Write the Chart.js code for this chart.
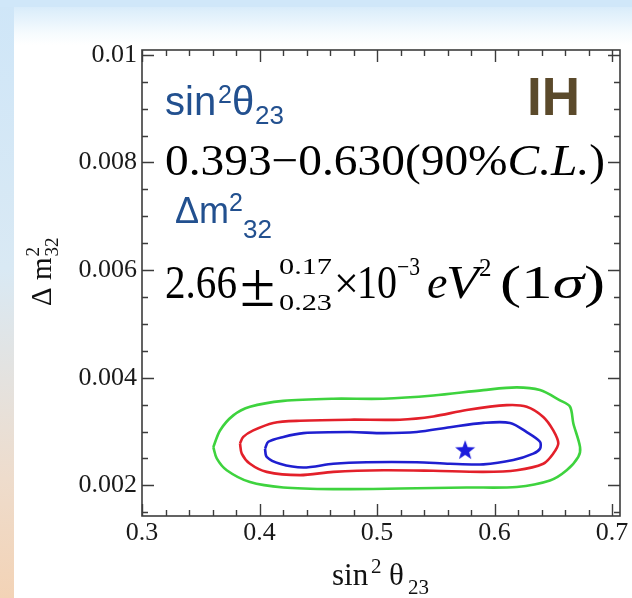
<!DOCTYPE html>
<html>
<head>
<meta charset="utf-8">
<script src="https://cdn.jsdelivr.net/npm/chart.js@4/dist/chart.umd.min.js"></script>
<style>
html,body{margin:0;padding:0;width:632px;height:598px;overflow:hidden;}
body{position:relative;background:linear-gradient(to bottom,#cfe6f8 0%,#d9e9f4 45%,#eedccc 80%,#f3d3b6 100%);}
#panel{position:absolute;left:14px;top:7px;right:0;bottom:0;background:linear-gradient(to bottom,#d9ecfa 0px,#e6f3fc 12px,#f6fbfe 26px,#ffffff 38px);}
#top{position:absolute;left:0;top:0;right:0;height:7px;background:#d0e7f9;}
canvas{position:absolute;left:0;top:0;}
</style>
</head>
<body>
<div id="top"></div>
<div id="panel"></div>
<canvas id="c" width="632" height="598"></canvas>
<script>
// ---- data ----
const xTickValues = [0.3, 0.4, 0.5, 0.6, 0.7];
const xTickLabels = ['0.3', '0.4', '0.5', '0.6', '0.7'];
const yTickValues = [0.002, 0.004, 0.006, 0.008, 0.01];
const yTickLabels = ['0.002', '0.004', '0.006', '0.008', '0.01'];

// outer contour (green)
const greenX = [0.3607,0.3664,0.3777,0.3919,0.4203,0.4628,0.5054,0.5479,0.5905,0.6189,0.6387,0.6557,0.6643,0.6671,0.6728,0.6713,0.6614,0.6472,0.6189,0.5763,0.5196,0.4628,0.4203,0.3919,0.3721,0.3636];
const greenY = [0.00271,0.00302,0.00330,0.00346,0.00357,0.00361,0.00361,0.00367,0.00377,0.00382,0.00377,0.00358,0.00346,0.00315,0.00271,0.00253,0.00228,0.00209,0.00197,0.00196,0.00194,0.00193,0.00196,0.00206,0.00228,0.00250];
// middle contour (red)
const redX = [0.3834,0.3862,0.3947,0.4117,0.4345,0.4770,0.5196,0.5479,0.5763,0.6104,0.6274,0.6415,0.6500,0.6543,0.6500,0.6415,0.6189,0.5905,0.5479,0.5054,0.4628,0.4345,0.4061,0.3919,0.3849];
const redY = [0.00278,0.00290,0.00302,0.00316,0.00320,0.00322,0.00322,0.00328,0.00340,0.00349,0.00346,0.00327,0.00302,0.00278,0.00259,0.00240,0.00228,0.00225,0.00227,0.00228,0.00225,0.00219,0.00225,0.00240,0.00259];
// inner contour (blue)
const blueX = [0.4047,0.4075,0.4203,0.4373,0.4770,0.5054,0.5338,0.5621,0.5905,0.6132,0.6274,0.6387,0.6387,0.6330,0.6160,0.5905,0.5621,0.5338,0.4912,0.4628,0.4373,0.4174,0.4061];
const blueY = [0.00268,0.00281,0.00290,0.00297,0.00299,0.00297,0.00299,0.00308,0.00316,0.00316,0.00299,0.00281,0.00268,0.00259,0.00247,0.00239,0.00240,0.00243,0.00243,0.00240,0.00233,0.00240,0.00253];
// best fit point
const bestX = [0.575];
const bestY = [0.00266];

const X_MIN = 0.3, X_MAX = 0.7068, Y_MIN = 0.00143, Y_MAX = 0.01009;

function loop(xs, ys) {
  const pts = xs.map((x, i) => ({x: x, y: ys[i]}));
  pts.push({x: xs[0], y: ys[0]});
  return pts;
}

// filled star icon for the best-fit marker
function makeStar(color) {
  const c = document.createElement('canvas');
  c.width = 24; c.height = 24;
  const g = c.getContext('2d');
  g.fillStyle = color;
  g.beginPath();
  for (let i = 0; i < 10; i++) {
    const r = i % 2 === 0 ? 10.5 : 4.3;
    const a = -Math.PI / 2 + i * Math.PI / 5;
    const px = 12 + r * Math.cos(a), py = 12.8 + r * Math.sin(a);
    if (i === 0) g.moveTo(px, py); else g.lineTo(px, py);
  }
  g.closePath();
  g.fill();
  return c;
}

const SERIF = '"Liberation Serif","Times New Roman",Times,serif';
const SANS = '"Liberation Sans",Arial,Helvetica,sans-serif';

function run(ctx, txt, x, y, font, color, w) {
  ctx.save();
  ctx.font = font;
  ctx.fillStyle = color;
  ctx.textAlign = 'left';
  ctx.textBaseline = 'alphabetic';
  ctx.translate(x, y);
  if (w) {
    const m = ctx.measureText(txt).width;
    ctx.scale(w / m, 1);
  }
  ctx.fillText(txt, 0, 0);
  ctx.restore();
}

// several runs fitted to a total width
function runs(ctx, parts, x, y, color, totalW) {
  ctx.save();
  ctx.fillStyle = color;
  ctx.textBaseline = 'alphabetic';
  let tot = 0;
  parts.forEach(p => { ctx.font = p[1]; tot += ctx.measureText(p[0]).width; });
  ctx.translate(x, y);
  ctx.scale(totalW / tot, 1);
  let cx = 0;
  parts.forEach(p => { ctx.font = p[1]; ctx.fillText(p[0], cx, 0); cx += ctx.measureText(p[0]).width; });
  ctx.restore();
}

const framePlugin = {
  id: 'frame',
  beforeDatasetsDraw(chart) {
    const ctx = chart.ctx, a = chart.chartArea;
    const xs = chart.scales.x, ys = chart.scales.y;
    ctx.save();
    ctx.strokeStyle = '#3c3c3c';
    ctx.lineWidth = 1.4;
    ctx.beginPath();
    // x ticks (major + minor), bottom and top, pointing inward
    for (let k = 0; k <= 20; k++) {
      const v = 0.3 + k * 0.02;
      const major = k % 5 === 0;
      const len = major ? 12 : 6;
      const px = Math.round(xs.getPixelForValue(v)) + 0.5;
      ctx.moveTo(px, a.bottom); ctx.lineTo(px, a.bottom - len);
      ctx.moveTo(px, a.top); ctx.lineTo(px, a.top + len);
    }
    // y ticks (major + minor), left and right
    for (let k = 3; k <= 20; k++) {
      const v = k * 0.0005;
      const major = k % 4 === 0;
      const len = major ? 12 : 6;
      const py = Math.round(ys.getPixelForValue(v)) + 0.5;
      ctx.moveTo(a.left, py); ctx.lineTo(a.left + len, py);
      ctx.moveTo(a.right, py); ctx.lineTo(a.right - len, py);
    }
    ctx.stroke();
    ctx.lineWidth = 1.6;
    ctx.strokeRect(a.left, a.top, a.right - a.left, a.bottom - a.top);
    ctx.restore();
  },
  afterDraw(chart) {
    const ctx = chart.ctx;
    const blueTxt = '#22508f';
    // sin^2 theta_23 (blue)
    run(ctx, 'sin', 165, 115, '40px ' + SANS, blueTxt);
    run(ctx, '2', 218, 103, '25px ' + SANS, blueTxt);
    run(ctx, 'θ', 232, 115, '40px ' + SANS, blueTxt);
    run(ctx, '23', 255, 124, '26px ' + SANS, blueTxt);
    // IH
    run(ctx, 'IH', 527, 115, 'bold 53px ' + SANS, '#5b4a2b');
    // 0.393-0.630(90%C.L.)
    runs(ctx, [
      ['0.393−0.630(90%', '44px ' + SERIF],
      ['C.L.', 'italic 44px ' + SERIF],
      [')', '44px ' + SERIF]
    ], 165, 175, '#000', 440);
    // Delta m^2_32 (blue)
    run(ctx, 'Δm', 175, 223, '36px ' + SANS, blueTxt);
    run(ctx, '2', 229, 211, '25px ' + SANS, blueTxt);
    run(ctx, '32', 243, 238, '26px ' + SANS, blueTxt);
    // 2.66 +0.17 -0.23 x10^-3 eV^2 (1 sigma)
    run(ctx, '2.66', 165, 298, '46px ' + SERIF, '#000', 72);
    run(ctx, '±', 240, 306, '64px ' + SERIF, '#000');
    run(ctx, '0.17', 279, 274, '24px ' + SERIF, '#000', 53);
    run(ctx, '0.23', 279, 310, '24px ' + SERIF, '#000', 53);
    run(ctx, '×', 334, 298, '44px ' + SERIF, '#000');
    run(ctx, '10', 357, 298, '46px ' + SERIF, '#000', 40);
    run(ctx, '−3', 397, 275, '25px ' + SERIF, '#000', 23);
    run(ctx, 'e', 427, 298, 'italic 46px ' + SERIF, '#000');
    run(ctx, 'V', 446, 298, 'italic 46px ' + SERIF, '#000', 33);
    run(ctx, '2', 479, 276, '25px ' + SERIF, '#000');
    runs(ctx, [
      ['(1', '46px ' + SERIF],
      ['σ', 'italic 46px ' + SERIF],
      [')', '46px ' + SERIF]
    ], 500, 298, '#000', 105);
    // x axis title
    run(ctx, 'sin', 332, 585, '31px ' + SERIF, '#111');
    run(ctx, '2', 371, 573, '21px ' + SERIF, '#111');
    run(ctx, 'θ', 389, 585, '31px ' + SERIF, '#111');
    run(ctx, '23', 408, 594, '21px ' + SERIF, '#111');
    // y axis title (rotated)
    ctx.save();
    ctx.translate(51, 306);
    ctx.rotate(-Math.PI / 2);
    run(ctx, 'Δ m', 0, 0, '29px ' + SERIF, '#111');
    ctx.font = '29px ' + SERIF;
    const w = ctx.measureText('Δ m').width;
    run(ctx, '2', w + 1, -12, '19px ' + SERIF, '#111');
    run(ctx, '32', w + 1, 7, '19px ' + SERIF, '#111');
    ctx.restore();
  }
};

const tickFont = {family: SERIF, size: 26};

new Chart(document.getElementById('c'), {
  type: 'scatter',
  data: {
    datasets: [
      {label: 'outer', data: loop(greenX, greenY), showLine: true, borderColor: '#3ed33e', borderWidth: 2.6, pointRadius: 0, tension: 0.3, fill: false},
      {label: 'middle', data: loop(redX, redY), showLine: true, borderColor: '#e3202a', borderWidth: 2.6, pointRadius: 0, tension: 0.3, fill: false},
      {label: 'inner', data: loop(blueX, blueY), showLine: true, borderColor: '#1f1fd0', borderWidth: 2.6, pointRadius: 0, tension: 0.3, fill: false},
      {label: 'best fit', data: bestX.map((x, i) => ({x: x, y: bestY[i]})), showLine: false, pointStyle: makeStar('#1c1cdc'), pointRadius: 11}
    ]
  },
  options: {
    responsive: false,
    animation: false,
    events: [],
    layout: {padding: {left: 0, right: 12, top: 50, bottom: 0}, autoPadding: false},
    plugins: {legend: {display: false}, tooltip: {enabled: false}, title: {display: false}},
    scales: {
      x: {
        type: 'linear', min: X_MIN, max: X_MAX,
        afterBuildTicks: s => { s.ticks = xTickValues.map(v => ({value: v})); },
        afterFit: s => { s.height = 82; s.paddingLeft = 0; s.paddingRight = 0; s.paddingTop = 0; s.paddingBottom = 0; },
        ticks: {callback: (v, i) => xTickLabels[i], font: tickFont, color: '#1a1a1a', padding: 2, maxRotation: 0, autoSkip: false},
        grid: {display: false, drawTicks: false},
        border: {display: false}
      },
      y: {
        type: 'linear', min: Y_MIN, max: Y_MAX,
        afterBuildTicks: s => { s.ticks = yTickValues.map(v => ({value: v})); },
        afterFit: s => { s.width = 142; s.paddingLeft = 0; s.paddingRight = 0; s.paddingTop = 0; s.paddingBottom = 0; },
        ticks: {callback: (v, i) => yTickLabels[i], font: tickFont, color: '#1a1a1a', padding: 5, autoSkip: false},
        grid: {display: false, drawTicks: false},
        border: {display: false}
      }
    }
  },
  plugins: [framePlugin]
});
</script>
</body>
</html>
